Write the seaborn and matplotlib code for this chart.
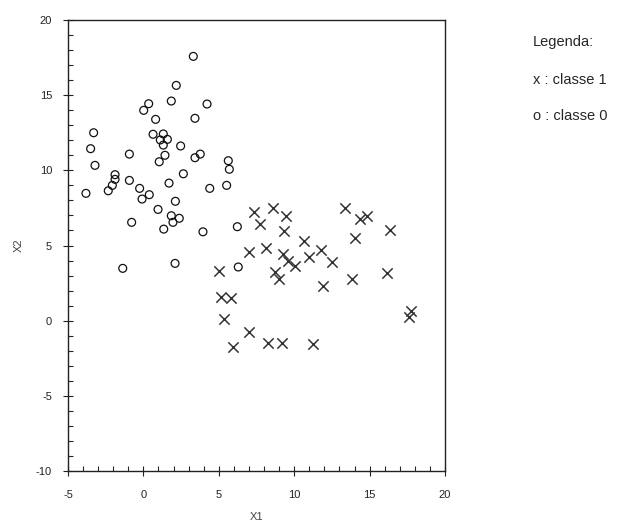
import matplotlib
matplotlib.use("Agg")
import matplotlib.pyplot as plt
import seaborn as sns
import pandas as pd
from matplotlib.ticker import MultipleLocator

# class 0 (circles)
c0_x1 = [3.31, 2.18, 0.35, 0.02, 1.85, 4.22, 0.81, 3.42, -3.30, 0.64,
         1.32, 1.12, 1.59, 1.32, -3.50, 2.47, -0.93, 1.43, 3.42, 3.77,
         1.05, 5.63, 5.70, -3.21, -1.88, 2.65, -1.88, -2.06, -2.33, -3.81,
         -0.93, 1.70, -0.25, 0.39, -0.09, 4.40, 5.52, 2.12, 0.97, 1.85,
         2.38, 1.96, -0.78, 1.35, 3.95, 6.23, 6.29, -1.37, 2.10]
c0_x2 = [17.58, 15.65, 14.43, 13.99, 14.61, 14.41, 13.39, 13.46, 12.50, 12.40,
         12.42, 12.02, 12.06, 11.68, 11.44, 11.62, 11.08, 11.00, 10.84, 11.08,
         10.57, 10.64, 10.07, 10.33, 9.71, 9.77, 9.40, 9.00, 8.64, 8.47,
         9.33, 9.15, 8.80, 8.38, 8.09, 8.80, 9.00, 7.94, 7.40, 6.98,
         6.81, 6.54, 6.54, 6.09, 5.91, 6.25, 3.57, 3.48, 3.81]

# class 1 (crosses)
c1_x1 = [7.33, 8.61, 9.44, 7.73, 9.35, 10.67, 7.02, 8.13, 9.24, 9.57,
         10.05, 11.00, 11.78, 12.49, 8.73, 9.01, 13.35, 14.36, 14.86, 16.35,
         14.04, 13.81, 16.18, 17.72, 17.63, 11.89, 5.01, 5.12, 5.79, 5.35,
         7.00, 5.92, 8.24, 9.17, 11.27]
c1_x2 = [7.23, 7.51, 6.96, 6.46, 5.94, 5.32, 4.54, 4.81, 4.44, 3.97,
         3.64, 4.25, 4.73, 3.90, 3.22, 2.79, 7.50, 6.74, 6.98, 6.03,
         5.48, 2.77, 3.19, 0.66, 0.24, 2.30, 3.30, 1.55, 1.48, 0.09,
         -0.73, -1.74, -1.51, -1.51, -1.58]

legend_title = "Legenda:"
legend_lines = ["x : classe 1", "o : classe 0"]

df0 = pd.DataFrame({"X1": c0_x1, "X2": c0_x2})
df1 = pd.DataFrame({"X1": c1_x1, "X2": c1_x2})

sns.set_style("white")
plt.rcParams["font.family"] = ["Liberation Sans", "DejaVu Sans"]
plt.rcParams["axes.unicode_minus"] = False

fig = plt.figure(figsize=(6.42, 5.27), dpi=100)
ax = fig.add_axes([68/642, 1 - 471/527, (445-68)/642, (471-20)/527])

sns.scatterplot(data=df0, x="X1", y="X2", ax=ax, marker="o", s=32,
                facecolors="none", edgecolor="#111111", linewidth=0.9)
sns.scatterplot(data=df1, x="X1", y="X2", ax=ax, marker="x", s=55,
                color="#333333", linewidth=1.1)

ax.set_xlim(-5, 20)
ax.set_ylim(-10, 20)
ax.xaxis.set_major_locator(MultipleLocator(5))
ax.xaxis.set_minor_locator(MultipleLocator(1))
ax.yaxis.set_major_locator(MultipleLocator(5))
ax.yaxis.set_minor_locator(MultipleLocator(1))
ax.tick_params(which="major", direction="inout", length=7, width=0.8,
               labelsize=8, colors="#222222", bottom=True, left=True)
ax.tick_params(axis="x", which="major", pad=10)
ax.tick_params(axis="y", which="major", pad=8)
ax.tick_params(which="minor", direction="in", length=3.5, width=0.8,
               bottom=True, left=True)
for sp in ax.spines.values():
    sp.set_visible(True)
    sp.set_color("#222222")
    sp.set_linewidth(1.0)

ax.set_xlabel("X1", fontsize=8, color="#444444", labelpad=9)
ax.set_ylabel("X2", fontsize=8, color="#444444", labelpad=9)

fig.text(533/642, 1 - 42/527, legend_title, fontsize=10.5, va="center", ha="left")
fig.text(533/642, 1 - 80/527, legend_lines[0], fontsize=10.5, va="center", ha="left")
fig.text(533/642, 1 - 116/527, legend_lines[1], fontsize=10.5, va="center", ha="left")

fig.savefig("out.png", dpi=100)
